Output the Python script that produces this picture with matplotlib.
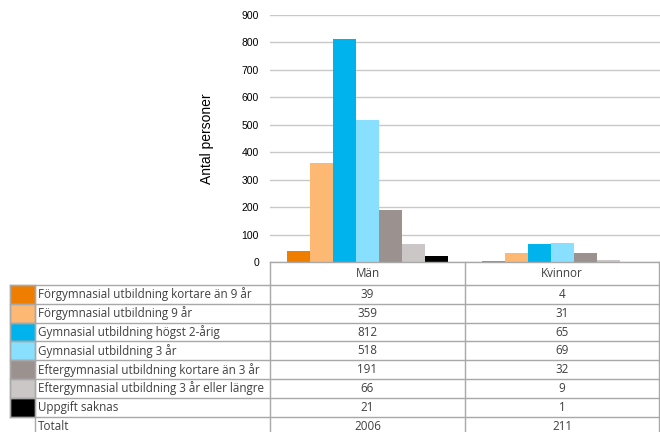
import matplotlib.pyplot as plt
from matplotlib.lines import Line2D
from matplotlib.patches import Rectangle

# data
groups = ["Män", "Kvinnor"]
categories = [
    "Förgymnasial utbildning kortare än 9 år",
    "Förgymnasial utbildning 9 år",
    "Gymnasial utbildning högst 2-årig",
    "Gymnasial utbildning 3 år",
    "Eftergymnasial utbildning kortare än 3 år",
    "Eftergymnasial utbildning 3 år eller längre",
    "Uppgift saknas",
]
man = [39, 359, 812, 518, 191, 66, 21]
kvinnor = [4, 31, 65, 69, 32, 9, 1]
totals = [2006, 211]
colors = ["#EF7D00", "#FDB873", "#00B3EC", "#88E0FE", "#9B918F", "#CBC7C7", "#000000"]
yticks = [0, 100, 200, 300, 400, 500, 600, 700, 800, 900]

W, H = 660, 432
fig = plt.figure(figsize=(W / 100, H / 100), dpi=100)


def fx(x):
    return x / W


def fy(y):
    return (H - y) / H


# chart axes
x0, x1, ytop, ybase = 270, 660, 15, 262
ax = fig.add_axes([fx(x0), fy(ybase), fx(x1 - x0), (ybase - ytop) / H])
bw = 0.118
n = len(categories)
for i in range(n):
    off = (i - (n - 1) / 2) * bw
    ax.bar([0.5 + off, 1.5 + off], [man[i], kvinnor[i]], width=bw,
           color=colors[i], edgecolor="none", zorder=3)
ax.set_xlim(0, 2)
ax.set_ylim(0, 900)
ax.set_yticks(yticks)
ax.set_xticks([])
ax.tick_params(axis="y", length=0, labelsize=7.5, pad=8)
for lab in ax.get_yticklabels():
    lab.set_fontfamily("Liberation Sans")
ax.grid(axis="y", color="#c8c8c8", linewidth=1, zorder=0)
for s in ax.spines.values():
    s.set_visible(False)
ax.set_ylabel("Antal personer", fontsize=10, family="Liberation Sans", labelpad=20)

# table
lc = "#a8a8a8"
row_h = 18.8
r0 = 285
xs_sw, xs_lab, xm, xk, xr = 10, 35, 270, 465, 659


def hline(xa, xb, y):
    fig.add_artist(Line2D([fx(xa), fx(xb)], [fy(y), fy(y)], color=lc, lw=1))


def vline(x, ya, yb):
    fig.add_artist(Line2D([fx(x), fx(x)], [fy(ya), fy(yb)], color=lc, lw=1))


tfont = dict(family="Open Sans", fontsize=8.4, color="#404040", va="center")

# header
vline(xm, ybase, H + 5)
vline(xk, ybase, H + 5)
vline(xr, ybase, H + 5)
hline(xm, xr, ybase)
fig.text(fx((xm + xk) / 2), fy((ybase + r0) / 2), groups[0], ha="center", **tfont)
fig.text(fx((xk + xr) / 2), fy((ybase + r0) / 2), groups[1], ha="center", **tfont)

for i in range(n + 1):
    yt = r0 + i * row_h
    yc = yt + row_h / 2
    if i < n:
        fig.add_artist(Rectangle((fx(xs_sw), fy(yt + row_h)), fx(xs_lab - xs_sw), row_h / H,
                                 facecolor=colors[i], edgecolor=lc, lw=1))
        hline(xs_sw, xr, yt)
        label, vm, vk = categories[i], man[i], kvinnor[i]
    else:
        hline(xs_sw, xr, yt)
        label, vm, vk = "Totalt", totals[0], totals[1]
    fig.text(fx(xs_lab + 3), fy(yc), label, ha="left", **tfont)
    fig.text(fx((xm + xk) / 2), fy(yc), str(vm), ha="center", **tfont)
    fig.text(fx((xk + xr) / 2), fy(yc), str(vk), ha="center", **tfont)
vline(xs_lab, r0, H + 5)
vline(xs_sw, r0, r0 + n * row_h)

fig.savefig("out.png", dpi=100)
